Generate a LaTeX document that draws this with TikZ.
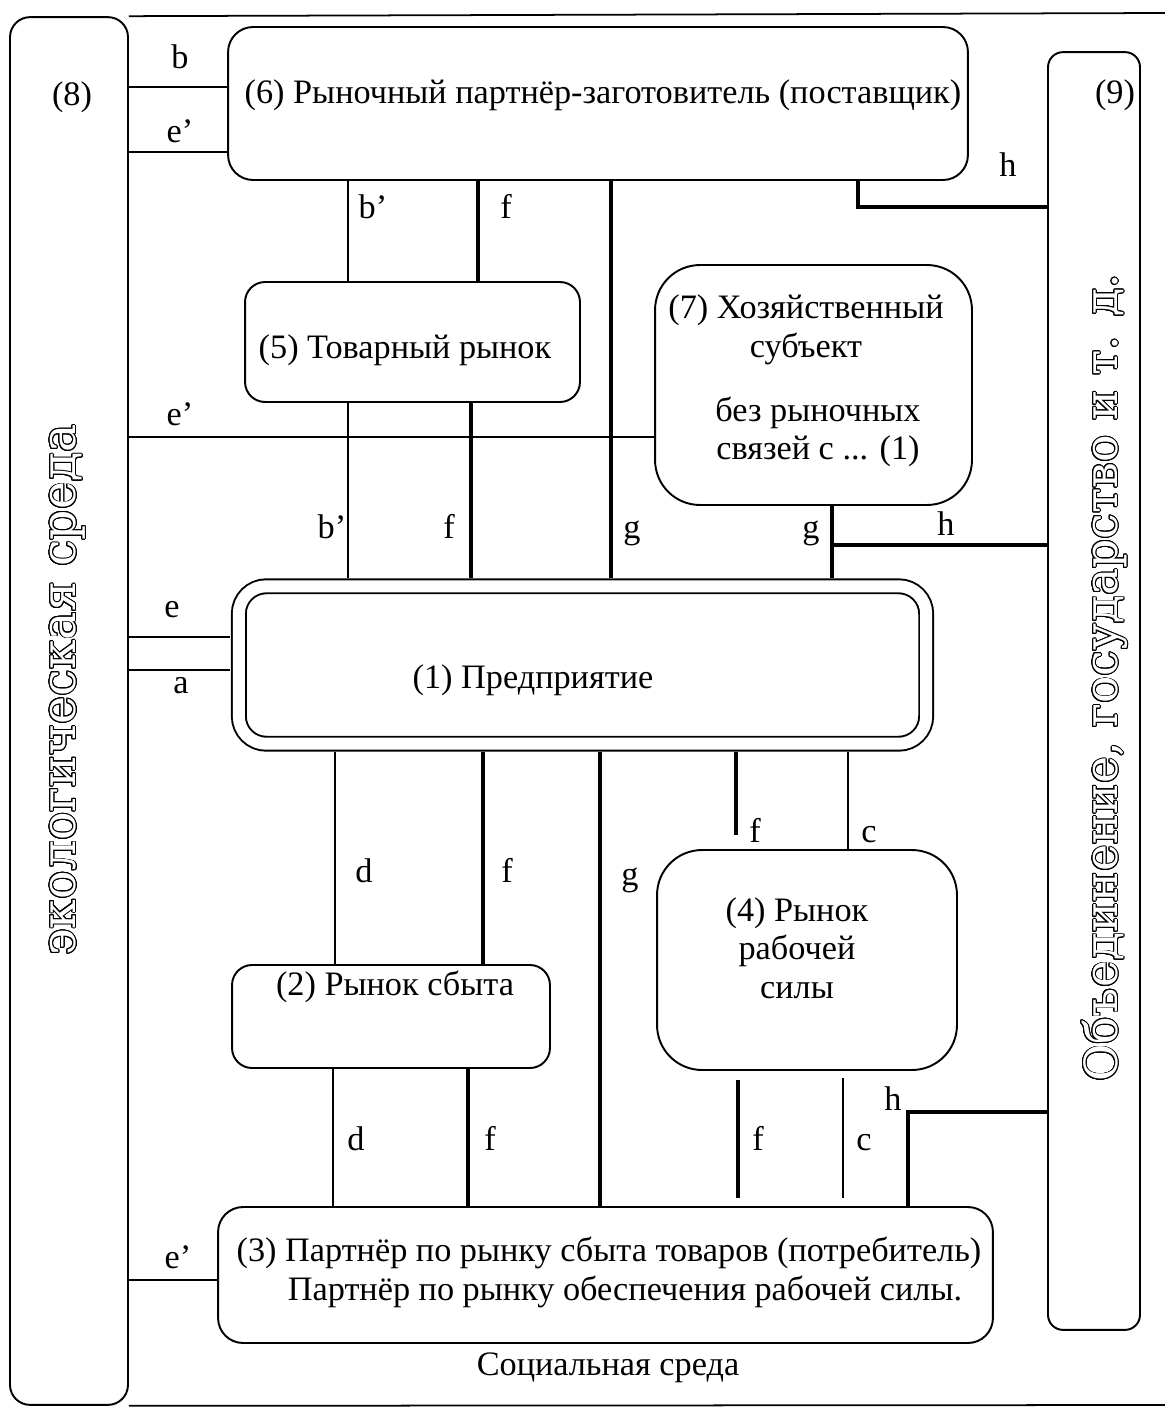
\documentclass[tikz,border=0pt]{standalone}
\usepackage{fontspec}
\setmainfont{Liberation Serif}
\newfontfamily\vertfont{DejaVu Serif}
\usepackage{contour}
\contourlength{0.5pt}
\contournumber{24}
\newcommand{\hollow}[1]{\textcolor{white}{\contour{black}{#1}}}
\tikzset{
  box/.style={draw, line width=1.1pt, rounded corners=0.5cm, inner sep=0pt},
  thinln/.style={line width=0.7pt},
  thickln/.style={line width=2.3pt},
  lbl/.style={inner sep=1pt, text height=1.6ex, text depth=0.5ex, yshift=-0.12cm}
}
\begin{document}
\begin{tikzpicture}[x=0.02cm,y=-0.02cm,font=\fontsize{19.5}{22}\selectfont]
\useasboundingbox (0,0) rectangle (1165,1410);
% outer frames
\node[box, rounded corners=0.4cm, minimum width=2.36cm, minimum height=27.76cm] (b8) at (69,711) {};
\node[box, rounded corners=0.3cm, minimum width=1.84cm, minimum height=25.56cm] (b9) at (1094,691) {};
\node (t8) at (72,97) {(8)};
\node (t9) at (1115,95) {(9)};
\node[rotate=90] (eco) at (68,690) {\vertfont\fontsize{27}{30}\selectfont\hollow{экологическая среда}};
\node[rotate=90] (gov) at (1105,678) {\vertfont\fontsize{26}{30}\selectfont\hollow{Объединение, государство и т. д.}};
\coordinate (topR) at (1165,13);
\coordinate (botR) at (1165,1405);
\draw[line width=1pt] (b8.north east) -- (topR);
\draw[line width=1pt] (b8.south east) -- (botR);
\node (soc) at (608,1368) {Социальная среда};
% boxes
\node[box, minimum width=14.8cm, minimum height=3.06cm] (b6) at (598,103.5) {};
\node (t6) at (603,95) {(6) Рыночный партнёр-заготовитель (поставщик)};
\node[box, rounded corners=0.4cm, minimum width=6.7cm, minimum height=2.4cm] (b5) at (412.5,342) {};
\node (t5) at (405,350) {(5) Товарный рынок};
\node[box, rounded corners=0.9cm, minimum width=6.34cm, minimum height=4.8cm] (b7) at (813.5,385) {};
\node[align=center] (t7a) at (806,330) {(7) Хозяйственный\\субъект};
\node[align=center] (t7b) at (818,432) {без рыночных\\связей с ... (1)};
\node[box, double, double distance=0.24cm, rounded corners=0.55cm, outer sep=0.17cm, minimum width=13.75cm, minimum height=3.15cm] (b1) at (582.5,665) {};
\node (t1) at (533,680) {(1) Предприятие};
\node[box, rounded corners=0.4cm, minimum width=6.36cm, minimum height=2.06cm] (b2) at (391,1016.5) {};
\node (t2) at (395,987) {(2) Рынок сбыта};
\node[box, rounded corners=0.9cm, minimum width=6cm, minimum height=4.4cm] (b4) at (807,960) {};
\node[align=center] (t4) at (797,948) {(4) Рынок\\рабочей\\силы};
\node[box, minimum width=15.5cm, minimum height=2.72cm] (b3) at (605.5,1275) {};
\node (t3a) at (609,1253) {(3) Партнёр по рынку сбыта товаров (потребитель)};
\node (t3b) at (625,1292) {Партнёр по рынку обеспечения рабочей силы.};
% links to (8)
\draw[thinln] (b8.east |- 0,87) -- (b6.west |- 0,87);
\draw[thinln] (b8.east |- 0,152) -- (b6.west |- 0,152);
\draw[thinln] (b8.east |- 0,437) -- (b7.west |- 0,437);
\draw[thinln] (b8.east |- 0,637) -- (b1.west |- 0,637);
\draw[thinln] (b8.east |- 0,670) -- (b1.west |- 0,670);
\draw[thinln] (b8.east |- 0,1280) -- (b3.west |- 0,1280);
\node[lbl] (lb) at (180,58) {b};
\node[lbl] (le1) at (180,132) {e’};
\node[lbl] (le2) at (180,415) {e’};
\node[lbl] (le) at (172,607) {e};
\node[lbl] (la) at (181,683) {a};
\node[lbl] (le3) at (178,1258) {e’};
% (6) -- (5) -- (1)
\draw[thinln] (348,0 |- b6.south) -- (348,0 |- b5.north);
\draw[thickln] (478,0 |- b6.south) -- (478,0 |- b5.north);
\draw[thickln] (611,0 |- b6.south) -- (611,0 |- b1.north);
\draw[thickln] (858,0 |- b6.south) |- (b9.west |- 0,207);
\draw[thinln] (348,0 |- b5.south) -- (348,0 |- b1.north);
\draw[thickln] (471,0 |- b5.south) -- (471,0 |- b1.north);
\draw[thickln] (832,0 |- b7.south) -- (832,0 |- b1.north);
\draw[thickln] (832,545) -- (b9.west |- 0,545);
\node[lbl] (lb1) at (373,208) {b’};
\node[lbl] (lf1) at (506,208) {f};
\node[lbl] (lh1) at (1008,166) {h};
\node[lbl] (lb2) at (332,528) {b’};
\node[lbl] (lf2) at (449,528) {f};
\node[lbl] (lg1) at (632,528) {g};
\node[lbl] (lg2) at (811,528) {g};
\node[lbl] (lh2) at (946,525) {h};
% (1) -- (2), (4), (3)
\draw[thinln] (335,0 |- b1.south) -- (335,0 |- b2.north);
\draw[thickln] (483,0 |- b1.south) -- (483,0 |- b2.north);
\draw[thickln] (600,0 |- b1.south) -- (600,0 |- b3.north);
\coordinate (fA) at (736,835);
\draw[thickln] (736,0 |- b1.south) -- (fA);
\draw[thinln] (848,0 |- b1.south) -- (848,0 |- b4.north);
\node[lbl] (ld1) at (364,872) {d};
\node[lbl] (lf3) at (507,872) {f};
\node[lbl] (lg3) at (630,875) {g};
\node[lbl] (lf4) at (755,832) {f};
\node[lbl] (lc1) at (869,832) {c};
% (2), (4) -- (3)
\draw[thinln] (333,0 |- b2.south) -- (333,0 |- b3.north);
\draw[thickln] (468,0 |- b2.south) -- (468,0 |- b3.north);
\coordinate (fB1) at (738,1080);
\coordinate (fB2) at (738,1198);
\coordinate (cB1) at (843,1078);
\coordinate (cB2) at (843,1198);
\draw[thickln] (fB1) -- (fB2);
\draw[thinln] (cB1) -- (cB2);
\draw[thickln] (908,0 |- b3.north) |- (b9.west |- 0,1112);
\node[lbl] (ld2) at (356,1140) {d};
\node[lbl] (lf5) at (490,1140) {f};
\node[lbl] (lf6) at (758,1140) {f};
\node[lbl] (lc2) at (864,1140) {c};
\node[lbl] (lh3) at (893,1100) {h};
\end{tikzpicture}
\end{document}
